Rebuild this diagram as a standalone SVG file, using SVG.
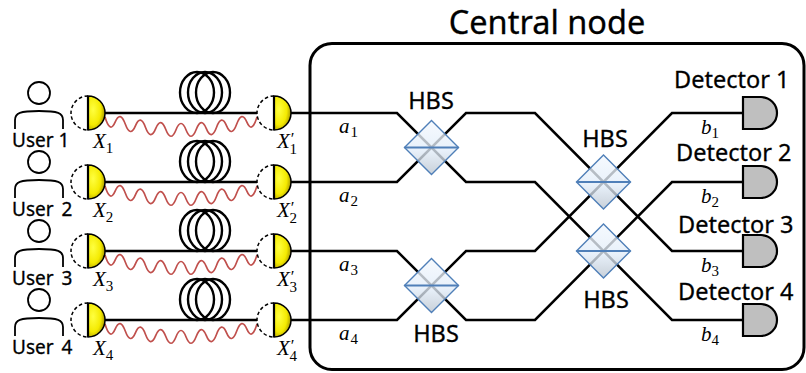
<svg xmlns="http://www.w3.org/2000/svg" xmlns:xlink="http://www.w3.org/1999/xlink" width="806" height="373" viewBox="0 0 806 373">
  <style>
    .sans { font-family: "Noto Sans", "Open Sans", "DejaVu Sans", sans-serif; fill: #000; stroke: #000; stroke-width: 0.3; }
    .math { font-family: "Liberation Serif", "DejaVu Serif", serif; font-style: italic; font-size: 21px; fill: #000; }
    .sub { font-style: normal; font-size: 15px; }
    .prime { font-style: normal; font-size: 17px; }
    .fiber { fill: none; stroke: #000; stroke-width: 2.5; }
    .wave { fill: none; stroke: #c0504d; stroke-width: 1.7; stroke-linejoin: round; }
    .beam { fill: none; stroke: #000; stroke-width: 2.5; stroke-linejoin: miter; }
    .coil { fill: none; stroke: #000; stroke-width: 2.4; }
    .person { fill: none; stroke: #000; stroke-width: 1.8; }
    .dash { fill: #fff; stroke: #000; stroke-width: 1.5; stroke-dasharray: 3.5 2.5; }
    .half { fill: url(#gold); stroke: #000; stroke-width: 1.5; }
    .flat { stroke: #000; stroke-width: 2.2; }
    .det { fill: #bfbfbf; stroke: #000; stroke-width: 2.2; }
    .hbsBody { fill: url(#glass); fill-opacity: 0.78; stroke: #4f7fb8; stroke-width: 1.4; }
    .hbsMirror { stroke: #4f7fb8; stroke-width: 2; }
  </style>
  <defs>
    <radialGradient id="gold" cx="0.3" cy="0.4" r="0.75">
      <stop offset="0" stop-color="#ffff40"/>
      <stop offset="0.6" stop-color="#f4ea00"/>
      <stop offset="1" stop-color="#9c8c00"/>
    </radialGradient>
    <linearGradient id="glass" x1="0" y1="0" x2="0" y2="1">
      <stop offset="0" stop-color="#f3f8fe"/>
      <stop offset="0.55" stop-color="#e2edf9"/>
      <stop offset="1" stop-color="#b9c3ce"/>
    </linearGradient>

    <!-- person icon, origin on the fibre line of its row -->
    <g id="person">
      <circle class="person" cx="39" cy="-20" r="11"/>
      <path class="person" d="M15,16 V7 C15,0 20,-2 39,-2 C58,-2 63,0 63,7 V16"/>
    </g>

    <!-- photon source / receiver: dashed back half, shaded front half -->
    <g id="port">
      <path class="dash" d="M0,-17 A17,17 0 0 0 0,17"/>
      <path class="half" d="M0,-17 A17,17 0 0 1 0,17 Z"/>
      <line class="flat" x1="0" y1="-17" x2="0" y2="17"/>
    </g>

    <!-- fibre spool: three offset loops resting on the line -->
    <g id="spool">
      <ellipse class="coil" cx="197" cy="-20.5" rx="17" ry="20.5"/>
      <ellipse class="coil" cx="205" cy="-20.5" rx="17" ry="20.5"/>
      <ellipse class="coil" cx="213" cy="-20.5" rx="17" ry="20.5"/>
    </g>

    <!-- classical channel drawn as a sagging wavy line -->
    <path id="wiggle" class="wave" d="M105,4 Q110.07,21.05 115.13,9.08 Q120.2,-2.91 125.27,11.07 Q130.33,25 135.4,12.88 Q140.47,0.69 145.53,14.43 Q150.6,28.09 155.67,15.66 Q160.73,3.14 165.8,16.51 Q170.87,29.78 175.93,16.95 Q181,4 186.07,16.95 Q191.13,29.78 196.2,16.51 Q201.27,3.14 206.33,15.66 Q211.4,28.09 216.47,14.43 Q221.53,0.69 226.6,12.88 Q231.67,25 236.73,11.07 Q241.8,-2.91 246.87,9.08 Q251.93,21.05 257,4"/>

    <!-- beam splitter cube seen edge-on -->
    <g id="splitter">
      <polygon class="hbsBody" points="0,-27 27,0 0,27 -27,0"/>
      <line class="hbsMirror" x1="-27" y1="0" x2="27" y2="0"/>
    </g>

    <!-- single-photon detector -->
    <path id="detector" class="det" d="M0,-16 H18 A16,16 0 0 1 18,16 H0 Z"/>
  </defs>

  <!-- central node enclosure -->
  <g id="central-node">
    <rect x="310" y="43.5" width="494" height="326" rx="22" ry="22" fill="none" stroke="#000" stroke-width="3"/>
    <text class="sans" x="547" y="34" font-size="32.5" text-anchor="middle">Central node</text>
  </g>

  <!-- connectors: fibre links, wavy channels and interferometer paths -->
  <g id="connectors">
    <line class="fiber" x1="105" y1="113" x2="257" y2="113"/>
    <line class="fiber" x1="105" y1="182" x2="257" y2="182"/>
    <line class="fiber" x1="105" y1="251" x2="257" y2="251"/>
    <line class="fiber" x1="105" y1="320" x2="257" y2="320"/>

    <use xlink:href="#wiggle" transform="translate(0,113)"/>
    <use xlink:href="#wiggle" transform="translate(0,182)"/>
    <use xlink:href="#wiggle" transform="translate(0,251)"/>
    <use xlink:href="#wiggle" transform="translate(0,320)"/>

    <path class="beam" d="M291,113 H397 L466,182 H535 L672,320 H743"/>
    <path class="beam" d="M291,182 H397 L466,113 H535 L672,251 H743"/>
    <path class="beam" d="M291,251 H397 L466,320 H535 L672,182 H743"/>
    <path class="beam" d="M291,320 H397 L466,251 H535 L672,113 H743"/>
  </g>

  <!-- fibre spools -->
  <g id="spool1"><use xlink:href="#spool" transform="translate(0,113)"/></g>
  <g id="spool2"><use xlink:href="#spool" transform="translate(0,182)"/></g>
  <g id="spool3"><use xlink:href="#spool" transform="translate(0,251)"/></g>
  <g id="spool4"><use xlink:href="#spool" transform="translate(0,320)"/></g>

  <!-- users -->
  <g id="user1">
    <use xlink:href="#person" transform="translate(0,113)"/>
    <text class="sans" x="12" y="147" font-size="19">User 1</text>
  </g>
  <g id="user2">
    <use xlink:href="#person" transform="translate(0,182)"/>
    <text class="sans" x="12" y="216" font-size="19" word-spacing="3">User 2</text>
  </g>
  <g id="user3">
    <use xlink:href="#person" transform="translate(0,251)"/>
    <text class="sans" x="12" y="285" font-size="19" word-spacing="3">User 3</text>
  </g>
  <g id="user4">
    <use xlink:href="#person" transform="translate(0,320)"/>
    <text class="sans" x="12" y="354" font-size="19" word-spacing="3">User 4</text>
  </g>

  <!-- user-side ports X_i -->
  <g id="x1">
    <use xlink:href="#port" transform="translate(88,113)"/>
    <text class="math" x="93" y="148">X<tspan class="sub" dy="5">1</tspan></text>
  </g>
  <g id="x2">
    <use xlink:href="#port" transform="translate(88,182)"/>
    <text class="math" x="93" y="217">X<tspan class="sub" dy="5">2</tspan></text>
  </g>
  <g id="x3">
    <use xlink:href="#port" transform="translate(88,251)"/>
    <text class="math" x="93" y="286">X<tspan class="sub" dy="5">3</tspan></text>
  </g>
  <g id="x4">
    <use xlink:href="#port" transform="translate(88,320)"/>
    <text class="math" x="93" y="355">X<tspan class="sub" dy="5">4</tspan></text>
  </g>

  <!-- node-side ports X'_i -->
  <g id="xp1">
    <use xlink:href="#port" transform="translate(274,113)"/>
    <text class="math" x="277" y="148">X<tspan class="prime" dx="1" dy="-4">′</tspan><tspan class="sub" dx="-5" dy="10">1</tspan></text>
  </g>
  <g id="xp2">
    <use xlink:href="#port" transform="translate(274,182)"/>
    <text class="math" x="277" y="217">X<tspan class="prime" dx="1" dy="-4">′</tspan><tspan class="sub" dx="-5" dy="10">2</tspan></text>
  </g>
  <g id="xp3">
    <use xlink:href="#port" transform="translate(274,251)"/>
    <text class="math" x="277" y="286">X<tspan class="prime" dx="1" dy="-4">′</tspan><tspan class="sub" dx="-5" dy="10">3</tspan></text>
  </g>
  <g id="xp4">
    <use xlink:href="#port" transform="translate(274,320)"/>
    <text class="math" x="277" y="355">X<tspan class="prime" dx="1" dy="-4">′</tspan><tspan class="sub" dx="-5" dy="10">4</tspan></text>
  </g>

  <!-- input mode labels -->
  <g id="inputs">
    <text class="math" x="339" y="133">a<tspan class="sub" dx="1" dy="4">1</tspan></text>
    <text class="math" x="339" y="202">a<tspan class="sub" dx="1" dy="4">2</tspan></text>
    <text class="math" x="339" y="271">a<tspan class="sub" dx="1" dy="4">3</tspan></text>
    <text class="math" x="339" y="340">a<tspan class="sub" dx="1" dy="4">4</tspan></text>
  </g>

  <!-- beam splitters -->
  <g id="hbs1">
    <use xlink:href="#splitter" transform="translate(431.5,147.5)"/>
    <text class="sans" x="431" y="109" font-size="23.5" text-anchor="middle">HBS</text>
  </g>
  <g id="hbs2">
    <use xlink:href="#splitter" transform="translate(603.5,182)"/>
    <text class="sans" x="605" y="147" font-size="23.5" text-anchor="middle">HBS</text>
  </g>
  <g id="hbs3">
    <use xlink:href="#splitter" transform="translate(431.5,285.5)"/>
    <text class="sans" x="436" y="342" font-size="23.5" text-anchor="middle">HBS</text>
  </g>
  <g id="hbs4">
    <use xlink:href="#splitter" transform="translate(603.5,251)"/>
    <text class="sans" x="606" y="308" font-size="23.5" text-anchor="middle">HBS</text>
  </g>

  <!-- detectors and output mode labels -->
  <g id="detector1">
    <use xlink:href="#detector" transform="translate(743,113)"/>
    <text class="sans" x="674" y="88" font-size="23.5">Detector 1</text>
    <text class="math" x="701" y="134">b<tspan class="sub" dx="0" dy="4">1</tspan></text>
  </g>
  <g id="detector2">
    <use xlink:href="#detector" transform="translate(743,182)"/>
    <text class="sans" x="676" y="161" font-size="23.5">Detector 2</text>
    <text class="math" x="701" y="203">b<tspan class="sub" dx="0" dy="4">2</tspan></text>
  </g>
  <g id="detector3">
    <use xlink:href="#detector" transform="translate(743,251)"/>
    <text class="sans" x="678" y="233" font-size="23.5">Detector 3</text>
    <text class="math" x="701" y="272">b<tspan class="sub" dx="0" dy="4">3</tspan></text>
  </g>
  <g id="detector4">
    <use xlink:href="#detector" transform="translate(743,320)"/>
    <text class="sans" x="678" y="300" font-size="23.5">Detector 4</text>
    <text class="math" x="701" y="341">b<tspan class="sub" dx="0" dy="4">4</tspan></text>
  </g>
</svg>
